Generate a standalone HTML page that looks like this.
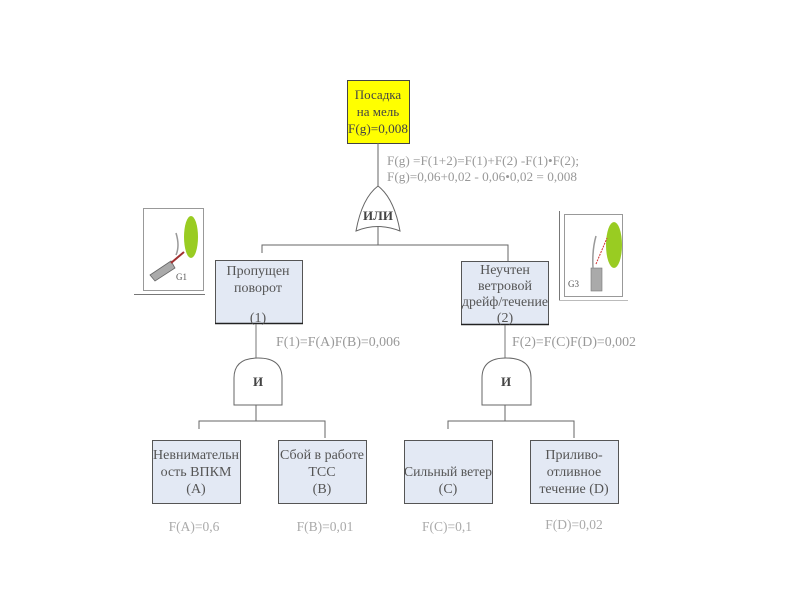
<!DOCTYPE html>
<html><head><meta charset="utf-8"><style>
body{margin:0;background:#fff;}
text{font-family:"Liberation Serif","Noto Serif CJK SC",serif;}
</style></head><body>
<svg width="800" height="600" xmlns="http://www.w3.org/2000/svg">
<rect x="347.5" y="80.5" width="62" height="63" fill="#ffff00" stroke="#444" stroke-width="1"/>
<g font-size="13" fill="#444" text-anchor="middle">
<text x="378" y="99">Посадка</text>
<text x="378" y="116">на мель</text>
<text x="378" y="133" textLength="60" lengthAdjust="spacingAndGlyphs">F(g)=0,008</text>
</g>
<line x1="378" y1="143" x2="378" y2="188" stroke="#666"/>
<g font-size="13" fill="#999">
<text x="387" y="165" textLength="192" lengthAdjust="spacingAndGlyphs">F(g) =F(1+2)=F(1)+F(2) -F(1)•F(2);</text>
<text x="387" y="181" textLength="190" lengthAdjust="spacingAndGlyphs">F(g)=0,06+0,02 - 0,06•0,02 = 0,008</text>
</g>
<path d="M356,231 Q362,198 378,186 Q394,198 400,231 Q378,222 356,231 Z" fill="#fff" stroke="#666"/>
<text x="378" y="220" font-size="13" font-weight="bold" fill="#444" text-anchor="middle">ИЛИ</text>
<line x1="378" y1="226" x2="378" y2="245" stroke="#666"/>
<polyline points="262,253 262,245 508,245 508,261" fill="none" stroke="#666"/>
<rect x="215.5" y="260.5" width="87" height="63" fill="#e3e9f4" stroke="#555"/>
<line x1="215" y1="323.5" x2="303" y2="323.5" stroke="#222" stroke-width="1.5"/>
<g font-size="14" fill="#555" text-anchor="middle">
<text x="258" y="275">Пропущен</text>
<text x="258" y="292">поворот</text>
<text x="258" y="322">(1)</text>
</g>
<rect x="461.5" y="261.5" width="87" height="63" fill="#e3e9f4" stroke="#555"/>
<line x1="461" y1="324.5" x2="549" y2="324.5" stroke="#222" stroke-width="1.5"/>
<g font-size="14" fill="#555" text-anchor="middle">
<text x="505" y="274">Неучтен</text>
<text x="505" y="290">ветровой</text>
<text x="505" y="306" textLength="86" lengthAdjust="spacingAndGlyphs">дрейф/течение</text>
<text x="505" y="322">(2)</text>
</g>
<line x1="256" y1="324" x2="256" y2="360" stroke="#777"/>
<line x1="505" y1="325" x2="505" y2="360" stroke="#777"/>
<g font-size="14" fill="#999">
<text x="276" y="346" textLength="124" lengthAdjust="spacingAndGlyphs">F(1)=F(A)F(B)=0,006</text>
<text x="512" y="346" textLength="124" lengthAdjust="spacingAndGlyphs">F(2)=F(C)F(D)=0,002</text>
</g>
<path d="M234,405 L234,378 Q234,358 258,358 Q282,358 282,378 L282,405 Z" fill="#fff" stroke="#666"/>
<text x="258" y="386" font-size="13" font-weight="bold" fill="#444" text-anchor="middle">И</text>
<path d="M482,405 L482,378 Q482,358 506,358 Q531,358 531,378 L531,405 Z" fill="#fff" stroke="#666"/>
<text x="506" y="386" font-size="13" font-weight="bold" fill="#444" text-anchor="middle">И</text>
<line x1="256" y1="405" x2="256" y2="421" stroke="#666"/>
<line x1="505" y1="405" x2="505" y2="421" stroke="#666"/>
<polyline points="199,429 199,421 325,421 325,438" fill="none" stroke="#666"/>
<polyline points="448,429 448,421 574,421 574,438" fill="none" stroke="#666"/>
<g fill="#e3e9f4" stroke="#555">
<rect x="152.5" y="440.5" width="88" height="63"/>
<rect x="278.5" y="440.5" width="88" height="63"/>
<rect x="404.5" y="440.5" width="88" height="63"/>
<rect x="530.5" y="440.5" width="88" height="63"/>
</g>
<g font-size="14" fill="#555" text-anchor="middle">
<text x="196" y="459" textLength="86" lengthAdjust="spacingAndGlyphs">Невнимательн</text>
<text x="196" y="476">ость ВПКМ</text>
<text x="196" y="493">(A)</text>
<text x="322" y="459" textLength="84" lengthAdjust="spacingAndGlyphs">Сбой в работе</text>
<text x="322" y="476">ТСС</text>
<text x="322" y="493">(B)</text>
<text x="448" y="476" textLength="88" lengthAdjust="spacingAndGlyphs">Сильный ветер</text>
<text x="448" y="493">(C)</text>
<text x="574" y="459">Приливо-</text>
<text x="574" y="476">отливное</text>
<text x="574" y="493">течение (D)</text>
</g>
<g font-size="13.5" fill="#aaa" text-anchor="middle">
<text x="194" y="531">F(A)=0,6</text>
<text x="325" y="531">F(B)=0,01</text>
<text x="447" y="531">F(C)=0,1</text>
<text x="574" y="529">F(D)=0,02</text>
</g>
<rect x="143.5" y="208.5" width="60" height="82" fill="#fff" stroke="#999"/>
<line x1="134" y1="294.5" x2="205" y2="294.5" stroke="#777"/>
<ellipse cx="191" cy="237" rx="7" ry="21" fill="#99cc22"/>
<polygon points="150,275 155,281 175,268 171,261" fill="#aaa" stroke="#666" stroke-width="0.8"/>
<line x1="171" y1="263" x2="184" y2="252" stroke="#a03030" stroke-width="2"/>
<path d="M176,255 Q180,246 176,233" fill="none" stroke="#999" stroke-width="1.5"/>
<text x="176" y="280" font-size="9" fill="#555" font-family="Liberation Sans">G1</text>
<line x1="559.5" y1="211" x2="559.5" y2="300" stroke="#777"/>
<line x1="559" y1="300.5" x2="628" y2="300.5" stroke="#bbb"/>
<rect x="564.5" y="214.5" width="58" height="82" fill="#fff" stroke="#999"/>
<ellipse cx="614" cy="245" rx="8" ry="23" fill="#99cc22"/>
<rect x="591" y="268" width="11" height="23" fill="#aaa" stroke="#777" stroke-width="0.6"/>
<path d="M593,268 Q592,250 596,236" fill="none" stroke="#999" stroke-width="1.5"/>
<line x1="596" y1="264" x2="607" y2="238" stroke="#d03030" stroke-width="1" stroke-dasharray="2,1"/>
<text x="568" y="287" font-size="9" fill="#555" font-family="Liberation Sans">G3</text>
</svg>
</body></html>
